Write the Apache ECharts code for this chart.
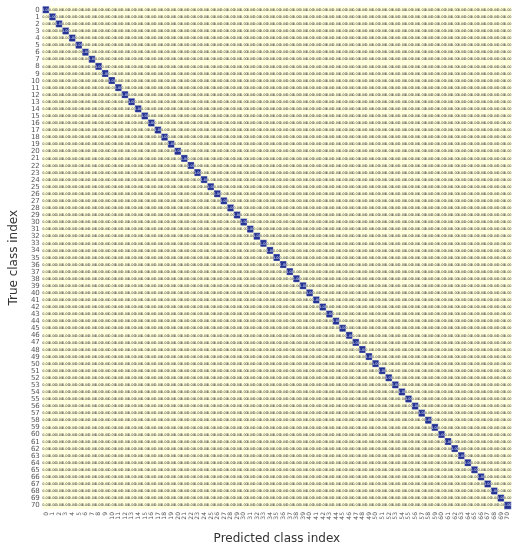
<!DOCTYPE html>
<html>
<head>
<meta charset="utf-8">
<script src="https://cdn.jsdelivr.net/npm/echarts@6/dist/echarts.min.js"></script>
<style>
  html, body { margin: 0; padding: 0; background: #fff; }
  #chart { width: 514px; height: 550px; }
</style>
</head>
<body>
<div id="chart"></div>
<script>
// class indices 0..70
var classes = []
for (var k = 0; k < 71; k++) classes.push(String(k))

// diagonal (correct prediction rate) per class, everything else reads 0.00
var diagValues = [
  1, 1, 1, 1, 1, 1, 1, 1, 1, 1,
  1, 1, 1, 1, 1, 1, 1, 1, 1, 1,
  1, 1, 1, 1, 1, 1, 1, 1, 1, 1,
  1, 1, 1, 1, 1, 1, 1, 1, 1, 1,
  1, 1, 1, 1, 1, 1, 1, 1, 1, 1,
  1, 1, 1, 1, 1, 1, 1, 1, 1, 1,
  1, 1, 1, 1, 1, 1, 1, 1, 1, 1,
  1
]
var offValue = 0

var cells = []
for (var i = 0; i < classes.length; i++) { // row = true class
  for (var j = 0; j < classes.length; j++) { // col = predicted class
    var v = i === j ? diagValues[i] : offValue
    var item = { value: [j, i, v] }
    if (v > 0.5) item.label = { color: '#e8ecf6' } // light text on dark cells
    cells.push(item)
  }
}

var chart = echarts.init(document.getElementById('chart'))
chart.setOption({
  animation: false,
  grid: { left: 31, right: 3, top: 6.5, bottom: 31 },
  xAxis: {
    type: 'category',
    data: classes,
    name: 'Predicted class index',
    nameLocation: 'middle',
    nameGap: 24,
    nameTextStyle: { fontSize: 12, color: '#333', fontFamily: 'DejaVu Sans' },
    axisLine: { show: false },
    axisTick: { show: false },
    splitArea: { show: false },
    axisLabel: { rotate: 90, interval: 0, fontSize: 6, color: '#555', margin: 3, fontFamily: 'DejaVu Sans' }
  },
  yAxis: {
    type: 'category',
    data: classes,
    inverse: true,
    name: 'True class index',
    nameLocation: 'middle',
    nameGap: 18,
    nameRotate: 90,
    nameTextStyle: { fontSize: 12, color: '#333', fontFamily: 'DejaVu Sans' },
    axisLine: { show: false },
    axisTick: { show: false },
    axisLabel: { interval: 0, fontSize: 7, color: '#555', margin: 3, fontFamily: 'DejaVu Sans' }
  },
  visualMap: {
    show: false,
    min: 0,
    max: 1,
    dimension: 2,
    inRange: { color: ['#ffffd9', '#edf8b1', '#c7e9b4', '#7fcdbb', '#41b6c4', '#1d91c0', '#225ea8', '#253494'] }
  },
  series: [{
    type: 'heatmap',
    data: cells,
    itemStyle: { borderColor: '#ffffff', borderWidth: 0.3 },
    label: {
      show: true,
      fontSize: 3.5,
      fontFamily: 'DejaVu Sans',
      formatter: function (p) { return p.value[2].toFixed(2) },
      color: '#333'
    }
  }]
})
</script>
</body>
</html>
